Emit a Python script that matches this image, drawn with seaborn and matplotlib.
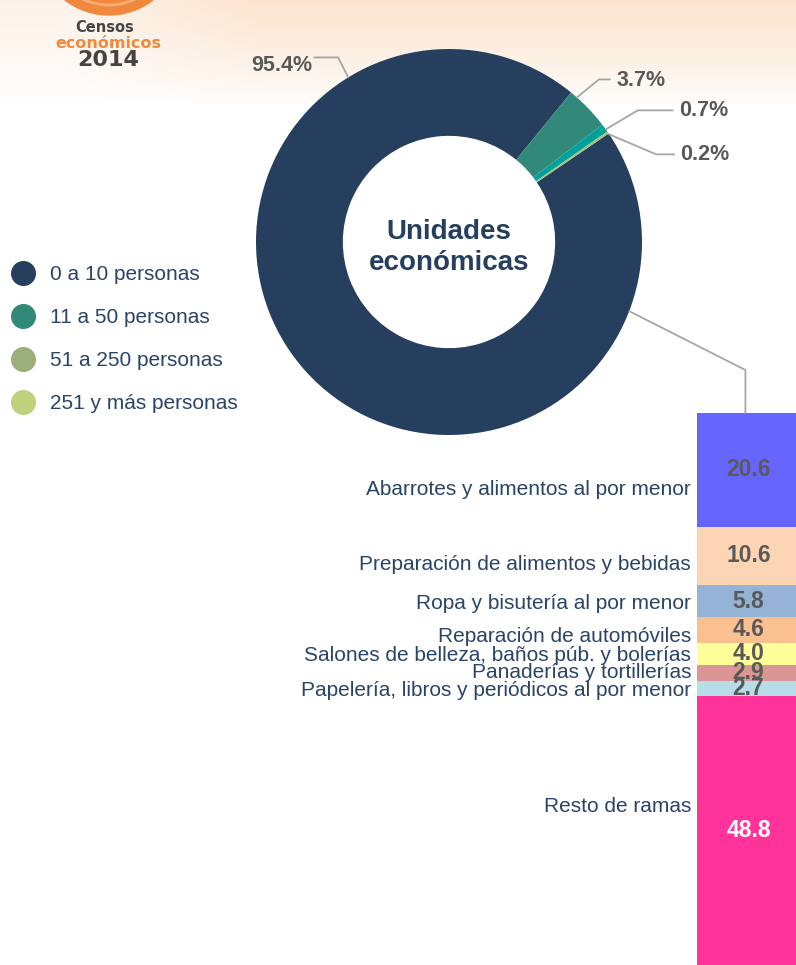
import numpy as np
import pandas as pd
import matplotlib.pyplot as plt
import seaborn as sns
from matplotlib.lines import Line2D
from matplotlib.patches import Circle

# Datos
tamanos = ['0 a 10 personas', '11 a 50 personas', '51 a 250 personas', '251 y más personas']
unidades = [95.4, 3.7, 0.7, 0.2]
etiquetas_unidades = ['95.4%', '3.7%', '0.7%', '0.2%']

ramas = ['Abarrotes y alimentos al por menor',
         'Preparación de alimentos y bebidas',
         'Ropa y bisutería al por menor',
         'Reparación de automóviles',
         'Salones de belleza, baños púb. y bolerías',
         'Panaderías y tortillerías',
         'Papelería, libros y periódicos al por menor',
         'Resto de ramas']
porcentajes = [20.6, 10.6, 5.8, 4.6, 4.0, 2.9, 2.7, 48.8]

# Colores
colores_pie = ['#263F5F', '#31897A', '#00A19B', '#A8C07E']
colores_leyenda = ['#263F5F', '#31897A', '#9BAF7C', '#BDD27A']
colores_ramas = ['#6666FF', '#FCD5B5', '#95B3D7', '#FAC090',
                 '#FFFF99', '#D99694', '#B7DEE8', '#FF3399']
azul_texto = '#2A4468'
gris = '#595959'

sns.set_theme(style='white')
plt.rcParams['font.family'] = ['Liberation Sans', 'DejaVu Sans']

fig = plt.figure(figsize=(7.96, 9.65), dpi=100)
W, H = 796, 965

#%% fondo y logo
bg = fig.add_axes([0, 0, 1, 1], zorder=-10)
bg.set_xlim(0, W)
bg.set_ylim(H, 0)
bg.axis('off')
yy = np.arange(110)[:, None]
xx = np.arange(W)[None, :]
alfa = 0.5 * np.clip(1 - yy / 105, 0, 1) ** 0.8 * (0.45 + 0.55 * np.clip((xx - 60) / 200, 0, 1))
img = np.ones((110, W, 4))
img[..., 0] = 249 / 255
img[..., 1] = 200 / 255
img[..., 2] = 158 / 255
img[..., 3] = alfa
bg.imshow(img, extent=(0, W, 110, 0), aspect='auto')
bg.add_patch(Circle((109, -57), 72, color='#F0883E'))
bg.add_patch(Circle((109, -57), 62, facecolor='none', edgecolor='#F6AE76', lw=2))
bg.text(105, 27, 'Censos', ha='center', va='center', fontsize=10.5, weight='bold',
        color='#444444', family='DejaVu Sans')
bg.text(108, 43, 'económicos', ha='center', va='center', fontsize=11.5, weight='bold',
        color='#EE8A3C', family='DejaVu Sans')
bg.text(108, 60, '2014', ha='center', va='center', fontsize=16, weight='bold',
        color='#444444', family='DejaVu Sans')

#%% dona
ax_pie = fig.add_axes([256 / W, (H - 242 - 193) / H, 386 / W, 386 / H])
ax_pie.pie(unidades, colors=colores_pie, startangle=34.2, counterclock=False,
           radius=1, wedgeprops=dict(width=0.45, linewidth=0))
ax_pie.set_xlim(-1, 1)
ax_pie.set_ylim(-1, 1)
ax_pie.set_aspect('equal')
ax_pie.axis('off')
ax_pie.text(0, -0.03, 'Unidades\neconómicas', ha='center', va='center', fontsize=20,
            weight='bold', color='#263F5F', linespacing=1.25)

s = 193.0  # px por unidad
# (angulo, elbow dx, elbow dy, largo horizontal, separacion, dy texto)
guias = [(121.5, -10, 20, -24, 2, -8),
         (48.5, 22, 18, 11, 7, -1),
         (35.7, 32, 19, 35, 6, 0),
         (33.9, 47, -20, 18, 6, 0)]
for txt, (ang, edx, edy, hl, gap, tdy) in zip(etiquetas_unidades, guias):
    a = np.deg2rad(ang)
    x0, y0 = np.cos(a), np.sin(a)
    x1, y1 = x0 + edx / s, y0 + edy / s
    x2 = x1 + hl / s
    ax_pie.plot([x0, x1, x2], [y0, y1, y1], color='#A6A6A6', lw=1.3, clip_on=False)
    ax_pie.text(x2 + np.sign(hl) * gap / s, y1 + tdy / s, txt,
                ha='left' if hl > 0 else 'right', va='center',
                fontsize=15.5, weight='bold', color=gris)

#%% leyenda
handles = [Line2D([], [], marker='o', linestyle='', markersize=17,
                  markerfacecolor=c, markeredgecolor=c) for c in colores_leyenda]
fig.legend(handles, tamanos, loc='upper left', bbox_to_anchor=(10 / W, 1 - 265 / H),
           frameon=False, fontsize=15, labelcolor=azul_texto, handlelength=1.2,
           handletextpad=0.7, labelspacing=1.15, borderpad=0, borderaxespad=0)

#%% barra apilada
df = pd.DataFrame({'rama': ramas, 'pct': porcentajes})
df['acum'] = df['pct'].cumsum()
df['x'] = ''
ax_bar = fig.add_axes([697 / W, 0, 103 / W, (H - 413) / H])
sns.barplot(data=df, x='x', y='acum', hue='rama', hue_order=ramas[::-1],
            palette=dict(zip(ramas, colores_ramas)), dodge=False, width=1,
            saturation=1, errorbar=None, legend=False, linewidth=0, ax=ax_bar)
ax_bar.set_xlim(-0.5, 0.5)
ax_bar.set_ylim(100, 0)
ax_bar.axis('off')

desplaz = [3.5, 1.5, 0.5, 1.1, 0.4, 0.0, 0.35, -4.4]
for i, row in df.iterrows():
    centro = row['acum'] - row['pct'] / 2
    ax_bar.text(0, centro, f"{row['pct']:.1f}", ha='center', va='center', fontsize=16.5,
                weight='bold', color='white' if i == len(df) - 1 else gris)
    ax_bar.annotate(row['rama'], xy=(-0.5, centro + desplaz[i]), xytext=(-6, 0),
                    textcoords='offset pixels', ha='right', va='center',
                    fontsize=15, color=azul_texto, annotation_clip=False)

#%% conector dona -> barra
a = np.deg2rad(-21)
p0 = ax_pie.transData.transform((np.cos(a), np.sin(a)))
p2 = ax_bar.transData.transform((-0.03, 0))
p1 = (p2[0], p2[1] + 43)
pts = fig.transFigure.inverted().transform(np.array([p0, p1, p2]))
fig.add_artist(Line2D(pts[:, 0], pts[:, 1], color='#A6A6A6', lw=1.3,
                      transform=fig.transFigure))

fig.savefig('out.png', dpi=100)
